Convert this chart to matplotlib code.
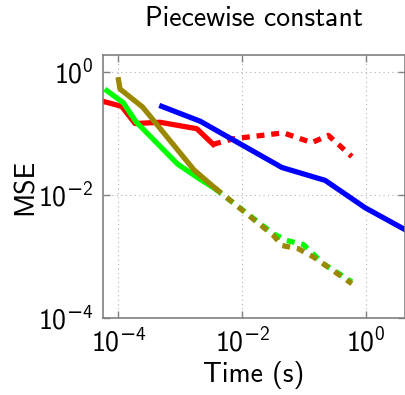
import matplotlib
matplotlib.use("Agg")
import matplotlib.pyplot as plt
from matplotlib.ticker import FixedLocator, NullLocator, FixedFormatter

plt.rcParams['font.family'] = ['cmss10', 'DejaVu Sans']
plt.rcParams['mathtext.fontset'] = 'custom'
plt.rcParams['mathtext.rm'] = 'cmss10'
plt.rcParams['mathtext.sf'] = 'DejaVu Sans'

# red: solid part then dotted part
red_x = [5.5e-5, 1.13e-4, 1.86e-4, 4.7e-4, 1.85e-3, 3.4e-3]
red_y = [0.33, 0.272, 0.143, 0.150, 0.118, 0.0657]
red_dot_x = [3.4e-3, 7.2e-3, 0.0466, 0.134, 0.248, 0.594]
red_dot_y = [0.0657, 0.081, 0.101, 0.070, 0.092, 0.0416]

blue_x = [5.0e-4, 2.1e-3, 0.0439, 0.22, 0.975, 5.0]
blue_y = [0.272, 0.156, 0.0277, 0.0171, 0.00615, 0.0025]

green_x = [6.5e-5, 1.2e-4, 1.93e-4, 9.1e-4, 1.96e-3, 3.66e-3]
green_y = [0.489, 0.31, 0.152, 0.0313, 0.0186, 0.0125]
green_dot_x = [3.66e-3, 0.032, 0.0528, 0.098, 0.206, 0.594]
green_dot_y = [0.0125, 0.00232, 0.00181, 0.00155, 7.6e-4, 3.86e-4]

olive_x = [1.0e-4, 1.06e-4, 2.46e-4, 1.67e-3, 3.66e-3]
olive_y = [0.735, 0.52, 0.265, 0.0252, 0.0128]
olive_dot_x = [3.66e-3, 0.032, 0.0439, 0.081, 0.142, 0.594]
olive_dot_y = [0.0128, 0.00219, 0.0015, 0.00133, 9.8e-4, 3.6e-4]

ticks = [1e-4, 1e-2, 1e0]
tick_labels = [r'$\mathrm{10}^{\mathsf{-}\mathrm{4}}$', r'$\mathrm{10}^{\mathsf{-}\mathrm{2}}$',
               r'$\mathrm{10}^{\mathrm{0}}$']

RED, BLUE, GREEN, OLIVE = '#ff0000', '#0000ff', '#00ff00', '#998800'
LW = 3.8
DOT = (0, (1.5, 1.3))

fig = plt.figure(figsize=(4.05, 3.95), dpi=100)
ax = fig.add_axes([0.254, 0.195, 0.746, 0.666])

ax.plot(red_x, red_y, color=RED, lw=LW)
ax.plot(red_dot_x, red_dot_y, color=RED, lw=LW, linestyle=DOT)
ax.plot(blue_x, blue_y, color=BLUE, lw=LW)
ax.plot(green_x, green_y, color=GREEN, lw=LW)
ax.plot(green_dot_x, green_dot_y, color=GREEN, lw=LW, linestyle=DOT)
ax.plot(olive_x, olive_y, color=OLIVE, lw=LW)
ax.plot(olive_dot_x, olive_dot_y, color=OLIVE, lw=LW, linestyle=DOT)

ax.set_xscale('log')
ax.set_yscale('log')
ax.set_xlim(5.6e-5, 4.3)
ax.set_ylim(1e-4, 1.86)

for axis in (ax.xaxis, ax.yaxis):
    axis.set_major_locator(FixedLocator(ticks))
    axis.set_major_formatter(FixedFormatter(tick_labels))
    axis.set_minor_locator(NullLocator())

ax.grid(True, which='major', color='#b0b0b0', linestyle=(0, (1, 3)), lw=0.8)
ax.tick_params(which='major', direction='in', length=5, width=1, color='#808080',
               top=True, right=True, labelsize=20, pad=7)
for s in ax.spines.values():
    s.set_color('#808080')
    s.set_linewidth(1.2)

ax.set_title('Piecewise constant', fontsize=20, pad=21)
ax.set_xlabel('Time (s)', fontsize=20, labelpad=3)
ax.set_ylabel('MSE', fontsize=20, labelpad=0)

fig.savefig('out.png', dpi=100)
